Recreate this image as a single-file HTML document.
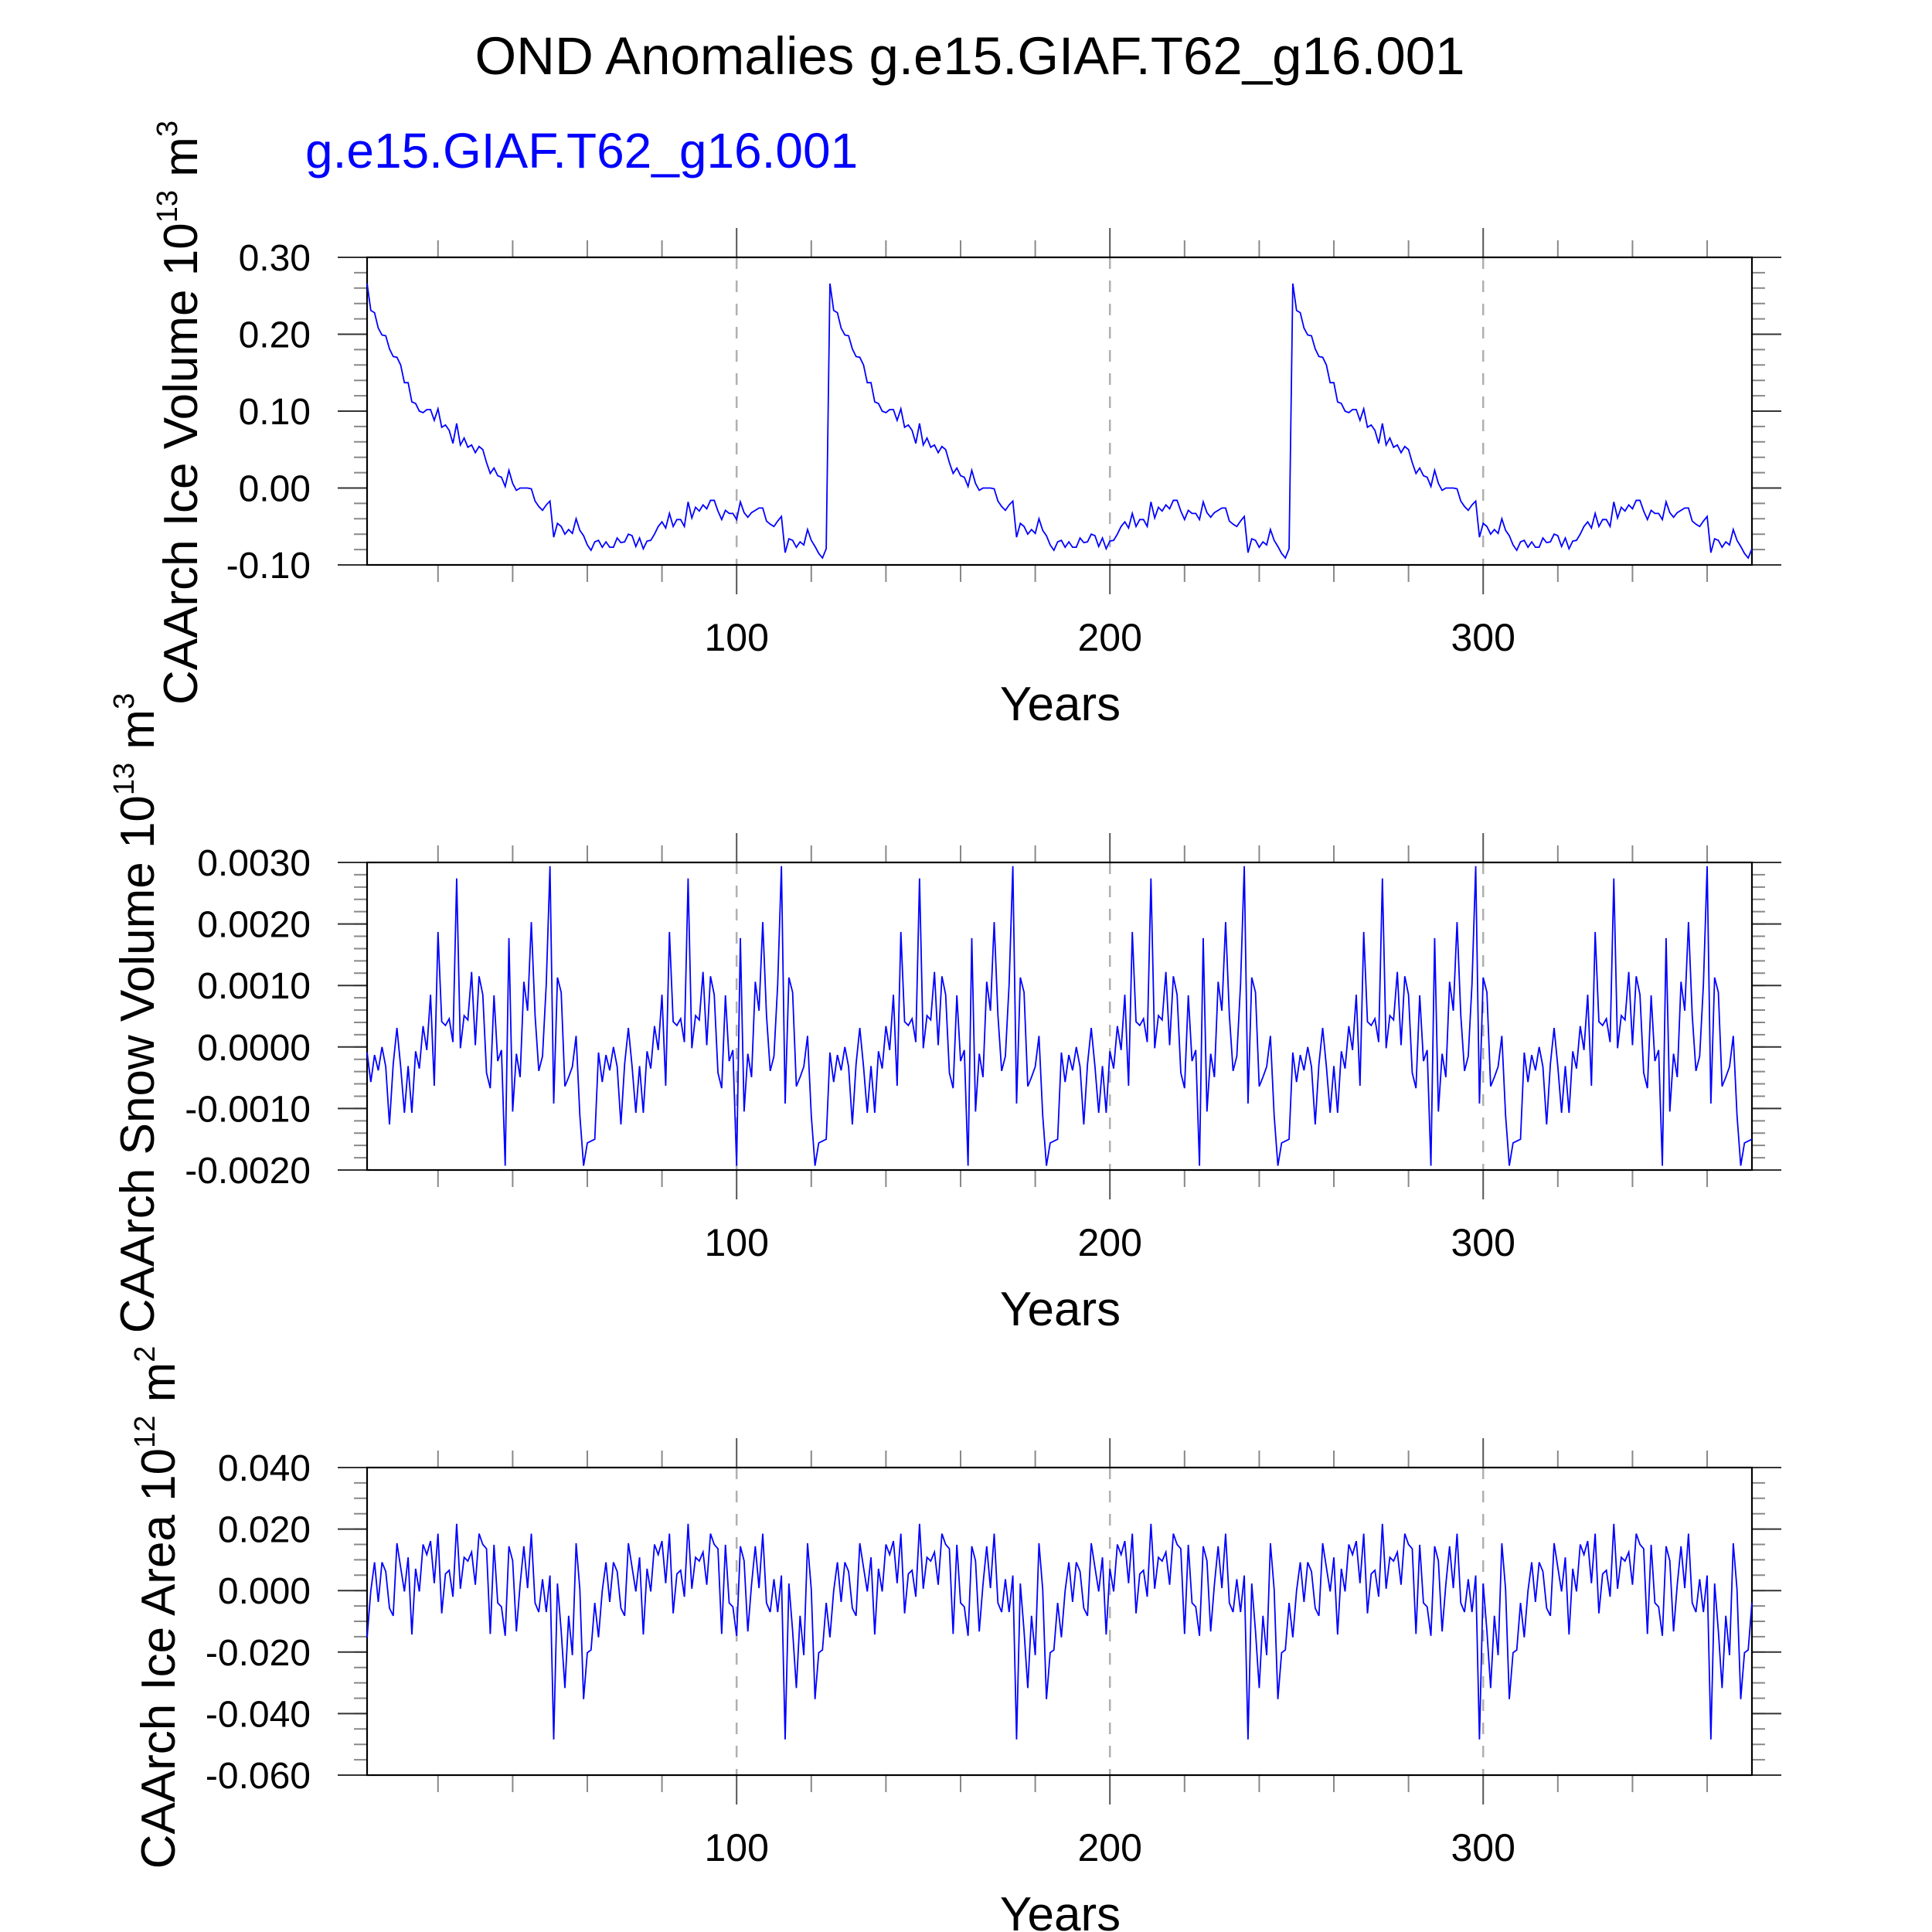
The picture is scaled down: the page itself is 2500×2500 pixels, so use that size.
<!DOCTYPE html>
<html><head><meta charset="utf-8"><title>OND Anomalies</title>
<style>html,body{margin:0;padding:0;background:#fff}svg{display:block}text{font-family:"Liberation Sans",Arial,sans-serif}</style>
</head><body>
<svg id="chart" xmlns="http://www.w3.org/2000/svg" width="2500" height="2500" viewBox="0 0 2500 2500">
<rect x="0" y="0" width="2500" height="2500" fill="#fff"/>
<text x="1255" y="96" font-size="69" text-anchor="middle" fill="#000">OND Anomalies g.e15.GIAF.T62_g16.001</text>
<text x="395" y="217" font-size="64" fill="#0000ff">g.e15.GIAF.T62_g16.001</text>
<g id="plots"></g>
</svg>
<script>
// ---- data ----
const xStart = 1;
const xEnd = 372;
const xTickValues = [100, 200, 300];
const xTickLabels = ["100", "200", "300"];
const iceVolumeCycle = [0.266,0.231,0.228,0.208,0.199,0.198,0.181,0.171,0.170,0.160,0.137,0.137,0.112,0.110,0.100,0.098,0.102,0.102,0.088,0.103,0.079,0.082,0.075,0.058,0.084,0.056,0.065,0.053,0.056,0.046,0.054,0.050,0.033,0.019,0.026,0.016,0.014,0.002,0.023,0.006,-0.003,0.000,0.000,0.000,-0.001,-0.017,-0.024,-0.029,-0.022,-0.017,-0.064,-0.046,-0.050,-0.060,-0.054,-0.059,-0.040,-0.055,-0.062,-0.074,-0.081,-0.070,-0.068,-0.077,-0.070,-0.077,-0.077,-0.065,-0.071,-0.070,-0.060,-0.062,-0.076,-0.065,-0.079,-0.069,-0.068,-0.060,-0.050,-0.044,-0.052,-0.033,-0.050,-0.041,-0.041,-0.050,-0.018,-0.039,-0.025,-0.030,-0.022,-0.027,-0.016,-0.016,-0.030,-0.041,-0.029,-0.033,-0.033,-0.041,-0.018,-0.032,-0.038,-0.032,-0.029,-0.026,-0.026,-0.043,-0.047,-0.050,-0.043,-0.037,-0.084,-0.066,-0.068,-0.077,-0.070,-0.074,-0.054,-0.068,-0.076,-0.085,-0.091,-0.079];
const snowVolumeCycle = [-0.09e-3,-0.57e-3,-0.13e-3,-0.38e-3,0.00e-3,-0.32e-3,-1.26e-3,-0.28e-3,0.31e-3,-0.32e-3,-1.07e-3,-0.31e-3,-1.07e-3,-0.07e-3,-0.35e-3,0.34e-3,-0.05e-3,0.85e-3,-0.63e-3,1.87e-3,0.41e-3,0.35e-3,0.46e-3,0.08e-3,2.74e-3,-0.02e-3,0.51e-3,0.44e-3,1.22e-3,0.03e-3,1.15e-3,0.85e-3,-0.42e-3,-0.67e-3,0.84e-3,-0.23e-3,-0.05e-3,-1.93e-3,1.77e-3,-1.05e-3,-0.11e-3,-0.49e-3,1.06e-3,0.59e-3,2.03e-3,0.52e-3,-0.39e-3,-0.15e-3,1.02e-3,2.94e-3,-0.92e-3,1.13e-3,0.89e-3,-0.64e-3,-0.49e-3,-0.32e-3,0.18e-3,-1.11e-3,-1.93e-3,-1.56e-3,-1.53e-3,-1.50e-3];
const iceAreaCycle = [-1.52e-2,-0.01e-2,0.92e-2,-0.37e-2,0.92e-2,0.62e-2,-0.57e-2,-0.82e-2,1.54e-2,0.75e-2,-0.03e-2,1.08e-2,-1.43e-2,0.71e-2,-0.03e-2,1.50e-2,1.17e-2,1.61e-2,0.24e-2,1.85e-2,-0.74e-2,0.54e-2,0.66e-2,-0.20e-2,2.17e-2,0.06e-2,1.08e-2,0.96e-2,1.25e-2,0.19e-2,1.85e-2,1.50e-2,1.36e-2,-1.41e-2,1.49e-2,-0.40e-2,-0.53e-2,-1.47e-2,1.44e-2,0.97e-2,-1.33e-2,0.20e-2,1.44e-2,0.08e-2,1.85e-2,-0.40e-2,-0.70e-2,0.37e-2,-0.70e-2,0.49e-2,-4.84e-2,0.23e-2,-1.31e-2,-3.17e-2,-0.82e-2,-2.10e-2,1.54e-2,0.04e-2,-3.53e-2,-2.02e-2,-1.93e-2,-0.40e-2];
const iceVolumeTicks = [-0.10, 0.00, 0.10, 0.20, 0.30];
const iceVolumeTickLabels = ["-0.10", "0.00", "0.10", "0.20", "0.30"];
const snowVolumeTicks = [-0.002, -0.001, 0, 0.001, 0.002, 0.003];
const snowVolumeTickLabels = ["-0.0020", "-0.0010", "0.0000", "0.0010", "0.0020", "0.0030"];
const iceAreaTicks = [-0.06, -0.04, -0.02, 0, 0.02, 0.04];
const iceAreaTickLabels = ["-0.060", "-0.040", "-0.020", "0.000", "0.020", "0.040"];

// ---- layout ----
const NS = "http://www.w3.org/2000/svg";
const L = 475, R = 2267;
function xScale(v){ return L + (v - xStart) / (xEnd - xStart) * (R - L); }
function mk(tag, attrs, parent){
  const e = document.createElementNS(NS, tag);
  for (const k in attrs) e.setAttribute(k, attrs[k]);
  parent.appendChild(e);
  return e;
}
function repeatCycle(cycle){
  const out = [];
  for (let i = 0; out.length < (xEnd - xStart + 1); i++) out.push(cycle[i % cycle.length]);
  return out;
}
const root = document.getElementById("plots");

const panels = [
  {key:"ice-volume", top:333, bottom:731, ymin:-0.1, ymax:0.3, ticks:iceVolumeTicks, labels:iceVolumeTickLabels, minor:0.02, series:repeatCycle(iceVolumeCycle),
   title:["CAArch Ice Volume 10","13"," m","3"], tx:255, ty:534},
  {key:"snow-volume", top:1116, bottom:1514, ymin:-0.002, ymax:0.003, ticks:snowVolumeTicks, labels:snowVolumeTickLabels, minor:0.0002, series:repeatCycle(snowVolumeCycle),
   title:["CAArch Snow Volume 10","13"," m","3"], tx:199, ty:1311},
  {key:"ice-area", top:1899, bottom:2297, ymin:-0.06, ymax:0.04, ticks:iceAreaTicks, labels:iceAreaTickLabels, minor:0.005, series:repeatCycle(iceAreaCycle),
   title:["CAArch Ice Area 10","12"," m","2"], tx:226, ty:2080}
];

panels.forEach(function(p){
  const g = mk("g", {}, root);
  
  
  const yScale = function(v){ return p.bottom - (v - p.ymin) / (p.ymax - p.ymin) * (p.bottom - p.top); };

  xTickValues.forEach(function(v){
    const gl = mk("line", {x1:xScale(v), x2:xScale(v), y1:p.top, y2:p.bottom, stroke:"#b0b0b0", "stroke-width":2.5, "stroke-dasharray":"15,15"}, g);
    
    
  });

  for (let v = 20; v <= xEnd; v += 20) {
    const major = v % 100 === 0;
    const len = major ? 38 : 22;
    const col = major ? "#555" : "#888";
    const t1 = mk("line", {x1:xScale(v), x2:xScale(v), y1:p.top - len, y2:p.top, stroke:col, "stroke-width":2}, g);
    
    
    const t2 = mk("line", {x1:xScale(v), x2:xScale(v), y1:p.bottom, y2:p.bottom + len, stroke:col, "stroke-width":2}, g);
    
    
  }
  xTickValues.forEach(function(v, i){
    const tl = mk("text", {x:xScale(v), y:p.bottom + 111, "font-size":50, "text-anchor":"middle", fill:"#000"}, g);
    tl.textContent = xTickLabels[i];
    
    
  });
  const xt = mk("text", {x:1372, y:p.bottom + 201, "font-size":62, "text-anchor":"middle", fill:"#000"}, g);
  xt.textContent = "Years";
  
  

  const nMinor = Math.round((p.ymax - p.ymin) / p.minor);
  for (let i = 0; i <= nMinor; i++) {
    const y = yScale(p.ymin + i * p.minor);
    const a = mk("line", {x1:L - 17, x2:L, y1:y, y2:y, stroke:"#888", "stroke-width":2}, g);
    
    
    const b = mk("line", {x1:R, x2:R + 17, y1:y, y2:y, stroke:"#888", "stroke-width":2}, g);
    
    
  }
  p.ticks.forEach(function(v, i){
    const y = yScale(v);
    const a = mk("line", {x1:L - 38, x2:L, y1:y, y2:y, stroke:"#333", "stroke-width":2}, g);
    
    
    const b = mk("line", {x1:R, x2:R + 38, y1:y, y2:y, stroke:"#333", "stroke-width":2}, g);
    
    
    const tl = mk("text", {x:402, y:y + 17, "font-size":48, "text-anchor":"end", fill:"#000"}, g);
    tl.textContent = p.labels[i];
    
    
  });

  const fr = mk("rect", {x:L, y:p.top, width:R - L, height:p.bottom - p.top, fill:"none", stroke:"#000", "stroke-width":2.2}, g);
  
  

  let d = "";
  p.series.forEach(function(v, i){
    d += (i ? "L" : "M") + xScale(xStart + i).toFixed(2) + "," + yScale(v).toFixed(2);
  });
  const ln = mk("path", {d:d, fill:"none", stroke:"#0000ff", "stroke-width":1.8, "stroke-linejoin":"miter"}, g);
  
  

  const yt = mk("text", {x:p.tx, y:p.ty, "font-size":62, "text-anchor":"middle", fill:"#000", transform:"rotate(-90 " + p.tx + " " + p.ty + ")"}, g);
  
  
  const s1 = mk("tspan", {}, yt); s1.textContent = p.title[0];
  const s2 = mk("tspan", {"font-size":38, dy:-26}, yt); s2.textContent = p.title[1];
  const s3 = mk("tspan", {dy:26}, yt); s3.textContent = p.title[2];
  const s4 = mk("tspan", {"font-size":38, dy:-26}, yt); s4.textContent = p.title[3];
});
</script>
</body></html>
